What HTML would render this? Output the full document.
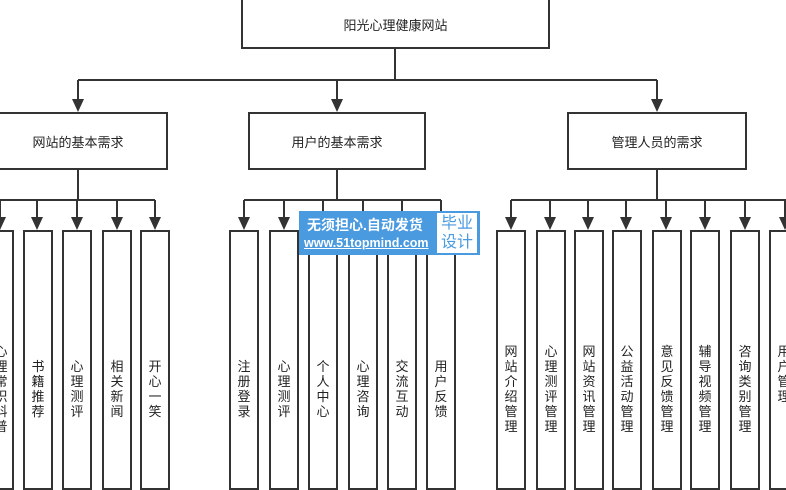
<!DOCTYPE html>
<html><head><meta charset="utf-8"><style>
body{margin:0;width:786px;height:470px;overflow:hidden;background:#fff;position:relative;font-family:"Liberation Sans","Noto Sans CJK SC",sans-serif;}
.b{position:absolute;border:2px solid #333;box-sizing:border-box;background:#fff;display:flex;align-items:center;justify-content:center;font-size:13px;color:#222;}
.c{position:absolute;top:230px;height:260px;width:30px;border:2px solid #333;box-sizing:border-box;background:#fff;}
.c span{position:absolute;left:0;right:0;top:157px;transform:translateY(-50%);text-align:center;font-size:13px;line-height:15px;color:#222;}
.wm{position:absolute;left:299px;top:211px;width:181px;height:44px;background:#4a9ae0;}
</style></head><body>
<svg width="786" height="470" style="position:absolute;left:0;top:0">
<defs><marker id="a" markerWidth="10" markerHeight="12" refX="5" refY="12" orient="auto" markerUnits="userSpaceOnUse"><path d="M0,0 L10,0 L5,12 z" fill="#333" transform="rotate(0)"/></marker></defs>
<g stroke="#333" stroke-width="2" fill="none">
<line x1="395" y1="48" x2="395" y2="80"/>
<line x1="78" y1="80" x2="657" y2="80"/>
<line x1="78" y1="169" x2="78" y2="200"/>
<line x1="337" y1="169" x2="337" y2="200"/>
<line x1="657" y1="169" x2="657" y2="200"/>
<line x1="-2" y1="200" x2="155" y2="200"/>
<line x1="244" y1="200" x2="441" y2="200"/>
<line x1="511" y1="200" x2="790" y2="200"/>
</g>
<g fill="#333" stroke="#333" stroke-width="2">
<path d="M78 80V100" /><path d="M337 80V100"/><path d="M657 80V100"/>
</g>
<g fill="#333">
<path d="M72 99h12l-6 13z"/><path d="M331 99h12l-6 13z"/><path d="M651 99h12l-6 13z"/>
</g>
<g stroke="#333" stroke-width="2">
<line x1="0" y1="200" x2="0" y2="218"/><line x1="37" y1="200" x2="37" y2="218"/><line x1="77" y1="200" x2="77" y2="218"/><line x1="117" y1="200" x2="117" y2="218"/><line x1="155" y1="200" x2="155" y2="218"/>
<line x1="244" y1="200" x2="244" y2="218"/><line x1="284" y1="200" x2="284" y2="218"/><line x1="323" y1="200" x2="323" y2="230"/><line x1="363" y1="200" x2="363" y2="230"/><line x1="402" y1="200" x2="402" y2="230"/><line x1="441" y1="200" x2="441" y2="230"/>
<line x1="511" y1="200" x2="511" y2="218"/><line x1="550" y1="200" x2="550" y2="218"/><line x1="588" y1="200" x2="588" y2="218"/><line x1="626" y1="200" x2="626" y2="218"/><line x1="666" y1="200" x2="666" y2="218"/><line x1="705" y1="200" x2="705" y2="218"/><line x1="745" y1="200" x2="745" y2="218"/><line x1="785" y1="200" x2="785" y2="218"/>
</g>
<g fill="#333">
<path d="M-6 217h12l-6 13z"/><path d="M31 217h12l-6 13z"/><path d="M71 217h12l-6 13z"/><path d="M111 217h12l-6 13z"/><path d="M149 217h12l-6 13z"/>
<path d="M238 217h12l-6 13z"/><path d="M278 217h12l-6 13z"/>
<path d="M505 217h12l-6 13z"/><path d="M544 217h12l-6 13z"/><path d="M582 217h12l-6 13z"/><path d="M620 217h12l-6 13z"/><path d="M660 217h12l-6 13z"/><path d="M699 217h12l-6 13z"/><path d="M739 217h12l-6 13z"/><path d="M779 217h12l-6 13z"/>
</g>
</svg>
<div class="b" style="left:241px;top:-4px;width:309px;height:53px;padding-top:4px;">阳光心理健康网站</div>
<div class="b" style="left:-12px;top:112px;width:180px;height:58px;">网站的基本需求</div>
<div class="b" style="left:248px;top:112px;width:178px;height:58px;">用户的基本需求</div>
<div class="b" style="left:567px;top:112px;width:180px;height:58px;">管理人员的需求</div>

<div class="c" style="left:-16px"><span style="left:4px">心<br>理<br>常<br>识<br>科<br>普</span></div>
<div class="c" style="left:23px"><span>书<br>籍<br>推<br>荐</span></div>
<div class="c" style="left:62px"><span>心<br>理<br>测<br>评</span></div>
<div class="c" style="left:102px"><span>相<br>关<br>新<br>闻</span></div>
<div class="c" style="left:140px"><span>开<br>心<br>一<br>笑</span></div>

<div class="c" style="left:229px"><span>注<br>册<br>登<br>录</span></div>
<div class="c" style="left:269px"><span>心<br>理<br>测<br>评</span></div>
<div class="c" style="left:308px"><span>个<br>人<br>中<br>心</span></div>
<div class="c" style="left:348px"><span>心<br>理<br>咨<br>询</span></div>
<div class="c" style="left:387px"><span>交<br>流<br>互<br>动</span></div>
<div class="c" style="left:426px"><span>用<br>户<br>反<br>馈</span></div>

<div class="c" style="left:496px"><span>网<br>站<br>介<br>绍<br>管<br>理</span></div>
<div class="c" style="left:536px"><span>心<br>理<br>测<br>评<br>管<br>理</span></div>
<div class="c" style="left:574px"><span>网<br>站<br>资<br>讯<br>管<br>理</span></div>
<div class="c" style="left:612px"><span>公<br>益<br>活<br>动<br>管<br>理</span></div>
<div class="c" style="left:652px"><span>意<br>见<br>反<br>馈<br>管<br>理</span></div>
<div class="c" style="left:690px"><span>辅<br>导<br>视<br>频<br>管<br>理</span></div>
<div class="c" style="left:730px"><span>咨<br>询<br>类<br>别<br>管<br>理</span></div>
<div class="c" style="left:769px"><span style="top:142px">用<br>户<br>管<br>理</span></div>

<div class="wm">
<div style="position:absolute;left:8px;top:4px;color:#fff;font-size:14px;font-weight:bold;white-space:nowrap;">无须担心.自动发货</div>
<div style="position:absolute;left:5px;top:25px;color:#fff;font-size:12.5px;font-weight:bold;text-decoration:underline;white-space:nowrap;">www.51topmind.com</div>
<div style="position:absolute;left:138px;top:2px;width:40px;height:40px;background:#fff;color:#4a9ae0;font-size:16px;line-height:19px;text-align:center;padding-top:1px;box-sizing:border-box;">毕业<br>设计</div>
</div>
</body></html>
